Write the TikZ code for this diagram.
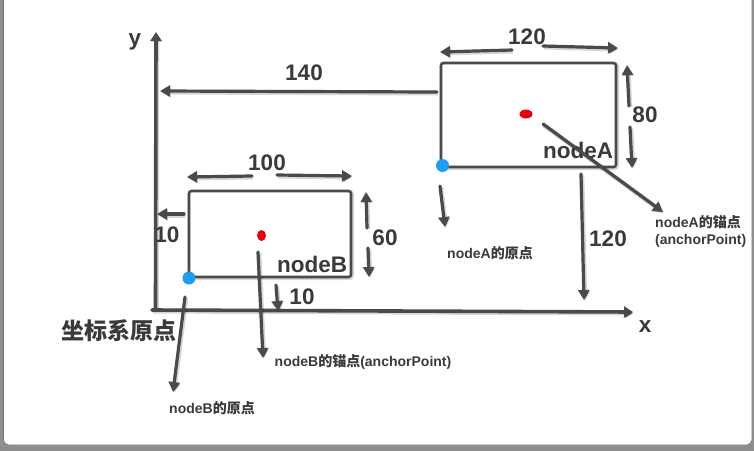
\documentclass[tikz,border=0pt]{standalone}
\usepackage{fontspec}
\setmainfont{Liberation Sans}
\newfontfamily\cjk{Noto Sans CJK SC}
\usetikzlibrary{arrows.meta,shapes.geometric}

\definecolor{ink}{HTML}{4A4A4A}
\definecolor{txt}{HTML}{3A3A3A}
\definecolor{dotblue}{HTML}{1E9DF2}
\definecolor{dotred}{HTML}{E60010}
\definecolor{frame}{HTML}{8E8E8E}

\begin{document}
\begin{tikzpicture}[x=1pt,y=-1pt,
  big/.style={font=\bfseries\fontsize{22.5}{24}\selectfont, text=txt, inner sep=0pt},
  small/.style={font=\bfseries\fontsize{14}{16}\selectfont, text=txt, inner sep=0pt},
  arr/.style={draw=ink, line width=3.2pt, line cap=round,
    -{Triangle[length=10pt,width=11pt]},
    preaction={draw=black, draw opacity=0.16, line width=4.8pt,
      transform canvas={shift={(0.9pt,-1.1pt)}}}},
  axis/.style={arr, line width=3.6pt, -{Triangle[length=9pt,width=11pt]}},
  box/.style={draw=ink, line width=2.6pt, fill=white, rounded corners=2.5pt,
    inner sep=0pt, rectangle,
    preaction={draw=black, draw opacity=0.16, line width=4.4pt,
      transform canvas={shift={(0.8pt,-1pt)}}}},
  bluedot/.style={circle, fill=dotblue, inner sep=0pt, minimum size=13pt},
  reddot/.style={ellipse, fill=dotred, inner sep=0pt}]

\useasboundingbox (0,0) rectangle (754,451);

% window frame and white card
\fill[frame] (0,0) rectangle (754,451);
\fill[white, rounded corners=6pt] (3.5,-20) rectangle (752,445);
\draw[black!55, line width=0.6pt, rounded corners=6pt] (3.5,-20) rectangle (752,445);

% the two nodes
\node[box, minimum width=175pt, minimum height=104pt] (boxA) at (528.5,115) {};
\node[box, minimum width=162pt, minimum height=86pt] (boxB) at (270,234) {};

% origin and anchor points
\node[bluedot] (originA) at (442.5,165.5) {};
\node[bluedot] (originB) at (189,278) {};
\node[reddot, minimum width=13pt, minimum height=9pt] (anchorA) at (526,114) {};
\node[reddot, minimum width=9pt, minimum height=11pt] (anchorB) at (261.5,235.5) {};

% labels
\node[big] (ylab) at (135,42) {y};
\node[big] (xlab) at (645,327) {x};
\node[big] (l140) at (304,73) {140};
\node[big] (l120a) at (527,37) {120};
\node[big] (l80) at (645,115) {80};
\node[big] (nameA) at (578,150) {nodeA};
\node[big] (l100) at (267,163) {100};
\node[big] (l60) at (385,238) {60};
\node[big] (l10a) at (167,235) {10};
\node[big] (nameB) at (312,264) {nodeB};
\node[big] (l10b) at (302,297) {10};
\node[big] (l120b) at (608,239) {120};
\node[big, font=\cjk\bfseries\fontsize{23}{25}\selectfont] (world) at (119,331) {坐标系原点};
\node[small] (txtOriginA) at (490,253) {nodeA{\cjk 的原点}};
\node[small, anchor=west, align=left] (txtAnchorA) at (655,231)
  {nodeA{\cjk 的锚点}\\[1pt](anchorPoint)};
\node[small] (txtAnchorB) at (363,362) {nodeB{\cjk 的锚点}(anchorPoint)};
\node[small] (txtOriginB) at (212,408) {nodeB{\cjk 的原点}};

% arrow end points
\coordinate (yS) at (155.5,310);  \coordinate (yE) at (156,32);
\coordinate (xS) at (152,310);    \coordinate (xE) at (633,312);
\coordinate (p140S) at (437,92);  \coordinate (p140E) at (160,91);
\coordinate (wAlS) at (512,50);   \coordinate (wAlE) at (440,52);
\coordinate (wArS) at (543,46);   \coordinate (wArE) at (618,48);
\coordinate (hAuS) at (629,106);  \coordinate (hAuE) at (627,65);
\coordinate (hAdS) at (630,127);  \coordinate (hAdE) at (632,168);
\coordinate (dAS) at (581,174);   \coordinate (dAE) at (584,300);
\coordinate (oAS) at (440,186);   \coordinate (oAE) at (445,227);
\coordinate (aAS) at (543,124);   \coordinate (aAE) at (663,212);
\coordinate (wBlS) at (252,176);  \coordinate (wBlE) at (187,177);
\coordinate (wBrS) at (277,175);  \coordinate (wBrE) at (352,176);
\coordinate (hBuS) at (367,228);  \coordinate (hBuE) at (366,192);
\coordinate (hBdS) at (368,248);  \coordinate (hBdE) at (369,277);
\coordinate (gLS) at (184,214);   \coordinate (gLE) at (157,214);
\coordinate (gBS) at (276,285);   \coordinate (gBE) at (278,311);
\coordinate (oBS) at (185,297);   \coordinate (oBE) at (173,392);
\coordinate (aBS) at (258,252);   \coordinate (aBE) at (263,358);

% axes
\draw[axis] (yS) -- (yE);
\draw[axis] (xS) -- (xE);

% dimensions and pointers
\draw[arr] (p140S) -- (p140E);
\draw[arr] (wAlS) -- (wAlE);
\draw[arr] (wArS) -- (wArE);
\draw[arr] (hAuS) -- (hAuE);
\draw[arr] (hAdS) -- (hAdE);
\draw[arr] (dAS) -- (dAE);
\draw[arr] (oAS) -- (oAE);
\draw[arr] (aAS) -- (aAE);
\draw[arr] (wBlS) -- (wBlE);
\draw[arr] (wBrS) -- (wBrE);
\draw[arr] (hBuS) -- (hBuE);
\draw[arr] (hBdS) -- (hBdE);
\draw[arr] (gLS) -- (gLE);
\draw[arr] (gBS) -- (gBE);
\draw[arr] (oBS) -- (oBE);
\draw[arr] (aBS) -- (aBE);
\end{tikzpicture}
\end{document}
